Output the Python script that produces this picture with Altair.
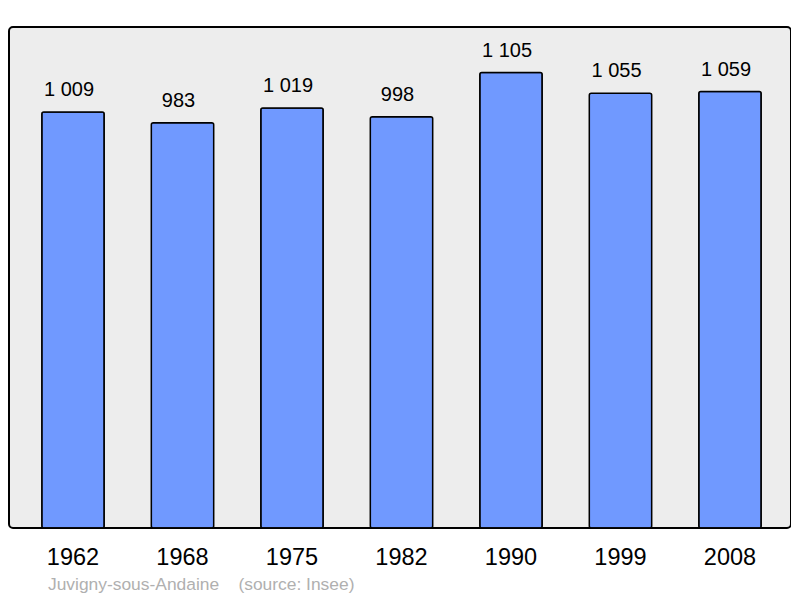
import altair as alt
import pandas as pd

years = ["1962", "1968", "1975", "1982", "1990", "1999", "2008"]
population = [1009, 983, 1019, 998, 1105, 1055, 1059]
footer = "Juvigny-sous-Andaine\u00a0\u00a0\u00a0\u00a0(source: Insee)"

df = pd.DataFrame({"year": years, "pop": population})

FONT = "Liberation Sans"

base = alt.Chart(df).transform_calculate(
    label="replace(format(datum.pop, ','), ',', ' ')"
)

x = alt.X(
    "year:N",
    sort=years,
    scale=alt.Scale(range=[32.8, 752.2], paddingInner=0.43, paddingOuter=0),
    axis=alt.Axis(
        title=None, labelAngle=0, domain=False, ticks=False,
        labelFontSize=23.5, labelFont=FONT, labelColor="black", labelPadding=17,
    ),
)
y = alt.Y("pop:Q", scale=alt.Scale(domain=[0, 1215.5], nice=False), axis=None)

bars = base.mark_bar(
    color="#7099ff", stroke="black", strokeWidth=1.5, cornerRadius=2
).encode(x=x, y=y)

labels = base.mark_text(
    baseline="bottom", dx=-4, dy=-12, fontSize=20, font=FONT, color="black"
).encode(x=x, y=y, text="label:N")

foot = alt.Chart(pd.DataFrame({"t": [footer]})).mark_text(
    align="left", baseline="middle", fontSize=17.4, font=FONT, color="#b0b0b0"
).encode(x=alt.value(39), y=alt.value(557.5), text="t:N")

chart = alt.layer(bars, labels, foot).properties(
    width=782, height=501,
    background="white",
    autosize=alt.AutoSizeParams(type="none"),
    padding={"left": 1, "top": 19, "right": 0, "bottom": 70},
).configure_view(
    fill="#ededed", stroke="black", strokeWidth=2, cornerRadius=4
)

chart.save("out.html", embed_options={"renderer": "svg", "actions": False})
